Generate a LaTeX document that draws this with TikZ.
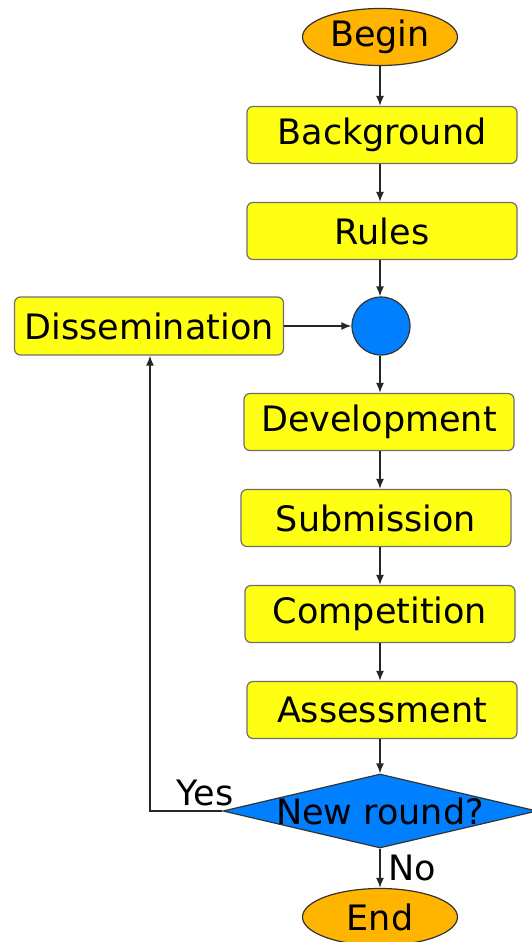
\documentclass[tikz,border=0pt]{standalone}
\usepackage{fontspec}
\setmainfont{DejaVu Sans}
\usetikzlibrary{shapes.geometric,arrows.meta}
\definecolor{boxyellow}{RGB}{255,255,20}
\definecolor{termorange}{RGB}{255,180,0}
\definecolor{flowblue}{RGB}{0,128,255}
\definecolor{edgegray}{RGB}{110,110,110}
\begin{document}
\begin{tikzpicture}[x=1pt,y=-1pt,
  every node/.style={font=\fontsize{35}{40}\selectfont, inner sep=0pt},
  stepbox/.style={draw=edgegray, line width=1.2pt, fill=boxyellow, rounded corners=6pt, minimum width=270pt, minimum height=57pt},
  term/.style={ellipse, draw=black!80, line width=1.2pt, fill=termorange, minimum width=155pt, minimum height=57pt},
  conn/.style={draw=black!85, line width=1.5pt, -{Latex[length=10pt,width=8pt]}},
  lbl/.style={font=\fontsize{35}{40}\selectfont}
]
\useasboundingbox (0,0) rectangle (532,942);
\coordinate (axis) at (380,0);
\node[term] (begin) at (380,37) {Begin};
\node[stepbox] (bg) at (382,135) {Background};
\node[stepbox] (rules) at (382,231) {Rules};
\node[circle, draw=black!80, line width=1.2pt, fill=flowblue, minimum size=58pt] (join) at (381,326) {};
\node[stepbox, minimum width=269pt, minimum height=58pt] (diss) at (149,326) {Dissemination};
\node[stepbox] (dev) at (379,422) {Development};
\node[stepbox] (sub) at (376,518) {Submission};
\node[stepbox] (comp) at (380,614) {Competition};
\node[stepbox] (assess) at (382,710) {Assessment};
\node[diamond, draw=black!80, line width=1.2pt, fill=flowblue, minimum width=314pt, minimum height=74pt, label={center:New round?}] (q) at (380,811) {};
\node[term] (end) at (380,917) {End};
\coordinate (yesx) at (150,0);

\draw[conn] (begin.south -| axis) -- (bg.north -| axis);
\draw[conn] (bg.south -| axis) -- (rules.north -| axis);
\draw[conn] (rules.south -| axis) -- (join.north -| axis);
\draw[conn] (diss.east) -- (join.west);
\draw[conn] (join.south -| axis) -- (dev.north -| axis);
\draw[conn] (dev.south -| axis) -- (sub.north -| axis);
\draw[conn] (sub.south -| axis) -- (comp.north -| axis);
\draw[conn] (comp.south -| axis) -- (assess.north -| axis);
\draw[conn] (assess.south -| axis) -- (q.north);
\draw[conn] (q.south) -- node[right=8pt, lbl] (nolbl) {No} (end.north);
\draw[conn] (q.west) -- (q.west -| yesx) -- (diss.south -| yesx);
\node[lbl] (yeslbl) at (205,793) {Yes};
\end{tikzpicture}
\end{document}
